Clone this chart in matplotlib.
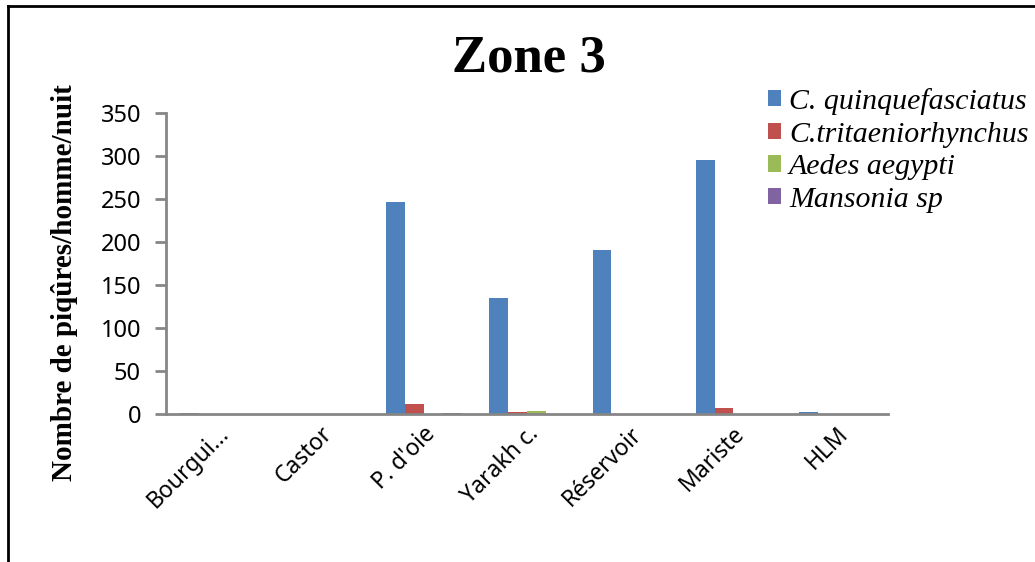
import numpy as np
import matplotlib
matplotlib.use("Agg")
import matplotlib.pyplot as plt
import matplotlib.transforms as mtransforms
from matplotlib.patches import Patch
from matplotlib.lines import Line2D

# Data: biting rate per site and species
categories = ["Bourgui...", "Castor", "P. d'oie", "Yarakh c.", "Réservoir", "Mariste", "HLM"]
c_quinquefasciatus = [1.5, 0, 247, 135, 191, 295, 2.5]
c_tritaeniorhynchus = [0, 0, 12, 2, 0, 7, 0]
aedes_aegypti = [0, 0, 0, 3, 0, 0, 0]
mansonia_sp = [0, 0, 1.5, 0, 0, 0, 0]
series_names = ["C. quinquefasciatus", "C.tritaeniorhynchus", "Aedes aegypti", "Mansonia sp"]
yticks = [0, 50, 100, 150, 200, 250, 300, 350]

colors = ["#4F81BD", "#C0504D", "#9BBB59", "#8064A2"]
series = [c_quinquefasciatus, c_tritaeniorhynchus, aedes_aegypti, mansonia_sp]

W, H = 1035, 562
fig = plt.figure(figsize=(W / 100, H / 100), dpi=100)
ax = fig.add_axes([166 / W, 1 - 414 / H, (888 - 166) / W, (414 - 113) / H])

x = np.arange(len(categories))
bw = 1 / 5.5
for i, (vals, col) in enumerate(zip(series, colors)):
    ax.bar(x + (i - 1.5) * bw, vals, width=bw, color=col, linewidth=0)

ax.set_xlim(-0.5, len(categories) - 0.5)
ax.set_ylim(0, 350)
ax.set_yticks(yticks)
ax.set_yticklabels([str(t) for t in yticks], fontsize=17, family="Noto Sans")
ax.set_xticks(x)
ax.set_xticklabels(categories, rotation=45, ha="right", va="center",
                   rotation_mode="anchor", fontsize=16.5, family="Noto Sans")
ax.tick_params(axis="x", length=0, pad=12)
ax.tick_params(axis="y", length=8, width=2, color="#868686", pad=10)

shift = mtransforms.ScaledTranslation(8 / 100, 0, fig.dpi_scale_trans)
for lbl in ax.get_xticklabels():
    lbl.set_transform(lbl.get_transform() + shift)

for s in ["top", "right"]:
    ax.spines[s].set_visible(False)
for s in ["left", "bottom"]:
    ax.spines[s].set_color("#868686")
    ax.spines[s].set_linewidth(2)

# Title and axis label
fig.text(529 / W, 1 - 59 / H, "Zone 3", ha="center", va="center",
         fontsize=38, fontweight="bold", family="Liberation Serif")
fig.text(65 / W, 1 - 283 / H, "Nombre de piqûres/homme/nuit", ha="center", va="center",
         rotation=90, fontsize=21, fontweight="bold", family="Liberation Serif")

# Legend
handles = [Patch(facecolor=c, edgecolor="none") for c in colors]
fig.legend(handles, series_names, loc="upper left",
           bbox_to_anchor=(768 / W, 1 - 88 / H), frameon=False,
           prop={"family": "Liberation Serif", "style": "italic", "size": 21.5},
           handlelength=0.45, handleheight=0.45, handletextpad=0.25,
           labelspacing=0.22, borderpad=0, borderaxespad=0)

# Outer frame (left and top edges)
fig.add_artist(Line2D([8 / W, 8 / W], [0, 1 - 6 / H], color="black", lw=2,
                      transform=fig.transFigure))
fig.add_artist(Line2D([8 / W, 1], [1 - 6 / H, 1 - 6 / H], color="black", lw=2,
                      transform=fig.transFigure))

fig.savefig("out.png", dpi=100)
